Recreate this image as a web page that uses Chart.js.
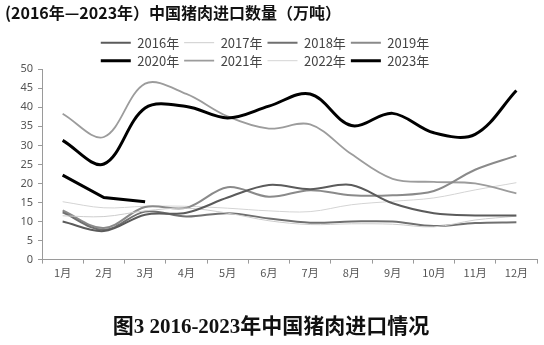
<!DOCTYPE html>
<html>
<head>
<meta charset="utf-8">
<script src="https://cdn.jsdelivr.net/npm/chart.js@4"></script>
<style>
  html, body { margin: 0; padding: 0; background: #fff; }
  #wrap { width: 544px; height: 345px; }
</style>
</head>
<body>
<div id="wrap"><canvas id="porkChart"></canvas></div>
<script>
let months = ["1月", "2月", "3月", "4月", "5月", "6月", "7月", "8月", "9月", "10月", "11月", "12月"];
let years = ["2016年", "2017年", "2018年", "2019年", "2020年", "2021年", "2022年", "2023年"];

// 万吨
let y2016 = [10.0, 7.5, 11.8, 12.3, 16.3, 19.6, 18.5, 19.6, 14.8, 12.2, 11.6, 11.6];
let y2017 = [11.5, 11.3, 12.8, 13.5, 12.2, 10.2, 9.2, 9.4, 9.3, 8.6, 10.4, 11.4];
let y2018 = [12.4, 7.8, 12.6, 11.3, 12.2, 10.8, 9.7, 10.0, 10.0, 8.8, 9.6, 9.8];
let y2019 = [12.9, 8.3, 13.8, 13.6, 19.0, 16.5, 18.2, 16.9, 16.9, 18.0, 23.6, 27.3];
let y2020 = [31.3, 25.1, 39.8, 40.2, 37.2, 40.3, 43.5, 35.2, 38.4, 33.3, 32.9, 44.4];
let y2021 = [38.3, 32.2, 46.2, 43.5, 37.6, 34.4, 35.5, 27.7, 21.2, 20.4, 20.0, 17.4];
let y2022 = [15.2, 13.6, 14.0, 14.0, 13.5, 12.8, 12.6, 14.4, 15.3, 16.2, 18.3, 20.2];
let y2023 = [22.2, 16.3, 15.2];

let seriesData = [y2016, y2017, y2018, y2019, y2020, y2021, y2022, y2023];
let lineColors = ["#5b5b5b", "#cdcdcd", "#707070", "#8a8a8a", "#000000", "#9c9c9c", "#d4d4d4", "#000000"];
let lineWidths = [2, 1, 2, 2, 3, 1.8, 1, 3];

let datasets = years.map((name, i) => ({
  label: name,
  data: seriesData[i],
  borderColor: lineColors[i],
  backgroundColor: lineColors[i],
  borderWidth: lineWidths[i],
  pointRadius: 0,
  pointHoverRadius: 0,
  fill: false,
  tension: i === 7 ? 0 : 0.35,
}));

// keep four legend items per row like the original
let legendW = 340;
const legendRows = {
  id: "legendRows",
  beforeUpdate(chart) {
    let lg = chart.legend;
    if (lg && !lg._rowsPatched) {
      let up = lg.update;
      lg.update = function (w, h, m) {
        up.call(this, Math.min(w, legendW), h, m);
        this.height -= 8;
      };
      let dr = lg.draw;
      lg.draw = function () {
        let l = this.left, r = this.right;
        let c = (l + r) / 2 - 6;
        this.left = c - legendW / 2;
        this.right = c + legendW / 2;
        dr.call(this);
        this.left = l;
        this.right = r;
      };
      lg._rowsPatched = true;
    }
  },
};

let axisGray = "#9a9a9a";
let cjk = "'Noto Sans CJK SC', 'Noto Sans', sans-serif";

new Chart(document.querySelector("#porkChart"), {
  type: "line",
  data: {
    labels: months,
    datasets: datasets,
  },
  plugins: [legendRows],
  options: {
    responsive: true,
    maintainAspectRatio: false,
    animation: false,
    layout: {
      padding: { left: 5, right: 7, top: 0, bottom: 0 },
    },
    scales: {
      x: {
        offset: true,
        grid: {
          offset: true,
          drawOnChartArea: false,
          drawTicks: true,
          tickLength: 4,
          color: axisGray,
        },
        border: { display: true, color: axisGray },
        ticks: {
          color: "#555",
          padding: 3,
          maxRotation: 0,
          autoSkip: false,
          font: { size: 11, family: cjk },
        },
      },
      y: {
        min: 0,
        max: 50,
        afterFit: (scale) => {
          scale.width = 37;
        },
        grid: {
          drawOnChartArea: false,
          drawTicks: true,
          tickLength: 4,
          color: axisGray,
        },
        border: { display: true, color: axisGray },
        ticks: {
          stepSize: 5,
          color: "#555",
          padding: 5,
          font: { size: 11, family: "'Noto Sans', sans-serif" },
        },
      },
    },
    plugins: {
      title: {
        display: true,
        text: "(2016年—2023年）中国猪肉进口数量（万吨）",
        align: "start",
        color: "#111",
        font: { size: 16, weight: "bold", family: cjk },
        padding: { top: 3, bottom: 9 },
      },
      subtitle: {
        display: true,
        position: "bottom",
        text: "图3 2016-2023年中国猪肉进口情况",
        color: "#111",
        font: { size: 21, weight: "bold", family: "'Liberation Serif', " + cjk },
        padding: { top: 32, bottom: 5 },
      },
      legend: {
        display: true,
        position: "top",
        labels: {
          usePointStyle: true,
          pointStyle: "line",
          pointStyleWidth: 30,
          padding: 5,
          color: "#444",
          font: { size: 13, family: cjk },
        },
      },
      tooltip: {
        enabled: false,
      },
    },
  },
});
</script>
</body>
</html>
